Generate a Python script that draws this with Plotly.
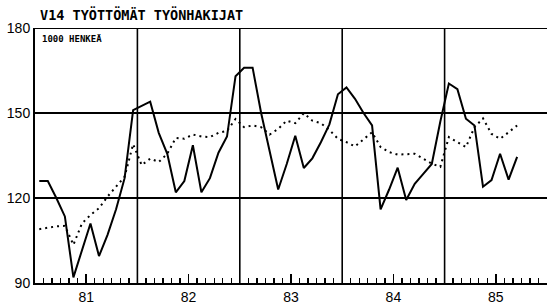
import plotly.graph_objects as go

# Monthly data Jan 1981 .. Sep 1985 (thousand persons)
start_year = 1981
solid_values = [
    126, 126, 120, 113.5, 92, 101.5, 111, 99.5, 107, 116, 127, 151,       # 1981
    152.5, 154, 143, 135.6, 122, 126, 138.6, 122, 127, 136, 141.7, 163,  # 1982
    166, 166, 150, 136, 123, 132, 142, 130.6, 134, 139.7, 146, 156.6,    # 1983
    159, 155, 150, 145.6, 116, 123, 130.7, 119.3, 125, 128.5, 132, 147,  # 1984
    160.4, 158.4, 148, 145.6, 124, 126.3, 135.6, 126.5, 134.5,           # 1985
]
dotted_values = [
    109, 109.5, 110, 110.2, 103.5, 111, 114, 116.4, 120.5, 124, 127.5, 139,     # 1981
    131.6, 133.9, 132.7, 135.6, 141.2, 140.9, 142.4, 141.7, 141.5, 143, 143.7, 147.9,  # 1982
    145, 145.6, 145, 142.4, 144.4, 147.3, 146.4, 149.9, 147.3, 146.4, 144, 140.9,     # 1983
    139.7, 138.2, 140.7, 143.2, 138, 136.2, 135.3, 135.4, 135.6, 133.9, 132.1, 131,   # 1984
    141.5, 139.7, 138, 145, 148.1, 142.6, 140.9, 143.2, 145.6,                       # 1985
]
years = [1981, 1982, 1983, 1984, 1985]
year_labels = ["81", "82", "83", "84", "85"]
y_ticks = [90, 120, 150, 180]
title_text = "V14 TYÖTTÖMÄT TYÖNHAKIJAT"
unit_text = "1000 HENKEÄ"

x_solid = [start_year + (i + 0.5) / 12 for i in range(len(solid_values))]
x_dotted = [start_year + (i + 0.5) / 12 for i in range(len(dotted_values))]
month_ticks = [start_year + i / 12 for i in range(len(years) * 12 + 1)]

fig = go.Figure()
fig.add_trace(go.Scatter(x=x_dotted, y=dotted_values, mode="lines",
                         line=dict(color="black", width=2, dash="2px,4px"),
                         hoverinfo="skip", showlegend=False))
fig.add_trace(go.Scatter(x=x_solid, y=solid_values, mode="lines",
                         line=dict(color="black", width=2),
                         hoverinfo="skip", showlegend=False))

# year boundary grid lines
for yr in years[1:]:
    fig.add_vline(x=yr, line=dict(color="black", width=1.6))

tick_font = dict(family="Liberation Sans, Arial", size=14, color="black")

fig.update_layout(
    width=547, height=305,
    margin=dict(l=35, r=0, t=28, b=17),
    paper_bgcolor="white", plot_bgcolor="white",
    showlegend=False,
    xaxis=dict(
        range=[years[0], years[-1] + 1],
        tickvals=[y + 0.5 for y in years], ticktext=year_labels,
        ticks="inside", ticklen=9, tickwidth=1.5, tickcolor="black",
        minor=dict(tickvals=month_ticks, ticks="inside", ticklen=5,
                   tickwidth=1.3, tickcolor="black"),
        showline=True, linecolor="black", linewidth=2,
        gridcolor="white", tickfont=tick_font,
    ),
    yaxis=dict(
        range=[90, 180], tickvals=y_ticks,
        showgrid=True, gridcolor="black", gridwidth=1.6,
        zeroline=False, showline=True, linecolor="black", linewidth=2,
        tickfont=tick_font,
    ),
    annotations=[
        dict(text=title_text, xref="paper", yref="paper", x=0, y=1,
             xanchor="left", yanchor="bottom", xshift=3, yshift=3, showarrow=False,
             font=dict(family="DejaVu Sans Mono", size=13.5, color="black", weight="bold")),
        dict(text=unit_text, xref="paper", yref="paper", x=0, y=1,
             xanchor="left", yanchor="top", xshift=5, yshift=-4, showarrow=False,
             font=dict(family="DejaVu Sans Mono", size=9, color="black", weight="bold")),
    ],
)
fig.add_hline(y=y_ticks[-1], line=dict(color="black", width=2))

fig.write_html(
    "out.html",
    config={"displayModeBar": False, "staticPlot": True},
    post_script="document.body.style.margin='0';document.body.style.overflow='hidden';",
)
